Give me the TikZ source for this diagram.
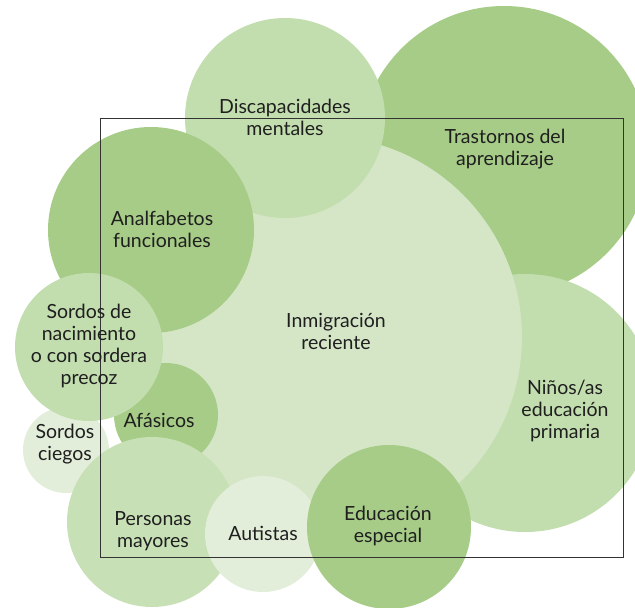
\documentclass[tikz,border=0pt]{standalone}
\usepackage{fontspec}
\setmainfont{Lato}
\definecolor{gdark}{HTML}{A6CC87}
\definecolor{gmed}{HTML}{C2DDAE}
\definecolor{gmedb}{HTML}{C8E0B5}
\definecolor{glight}{HTML}{D5E6C7}
\definecolor{gvlight}{HTML}{E3EEDA}
\definecolor{frame}{HTML}{333333}
\begin{document}
\begin{tikzpicture}[x=1pt,y=-1pt,
  bub/.style={circle,inner sep=0pt,draw=none},
  lbl/.style={align=center,font=\fontsize{19.5}{22}\selectfont,text=black!88,inner sep=0pt}]
\useasboundingbox (0,0) rectangle (635,608);
% circles (back to front)
\node[bub,fill=gdark,minimum size=290pt] (tras) at (504,151) {};
\node[bub,fill=gmed,minimum size=258pt] (ninos) at (525,403) {};
\node[bub,fill=glight,minimum size=402pt] (inmi) at (321,337) {};
\node[bub,fill=gmed,minimum size=200pt] (disc) at (285,118) {};
\node[bub,fill=gdark,minimum size=206pt] (analf) at (151,230) {};
\node[bub,fill=gdark,minimum size=104pt] (afas) at (166,415) {};
\node[bub,fill=gvlight,minimum size=86pt] (sciegos) at (66,450) {};
\node[bub,fill=gmed,minimum size=148pt] (snac) at (89,347) {};
\node[bub,fill=gmedb,minimum size=170pt] (pers) at (152,522) {};
\node[bub,fill=gvlight,minimum size=116pt] (aut) at (263,534) {};
\node[bub,fill=gdark,minimum size=164pt] (educ) at (389,527) {};
% frame
\draw[frame,line width=0.9pt] (100,118) rectangle (623,557);
% labels
\node[lbl] (tdisc) at (285,117) {Discapacidades\\mentales};
\node[lbl] (ttras) at (505,149) {Trastornos del\\aprendizaje};
\node[lbl] (tanalf) at (162,229) {Analfabetos\\funcionales};
\node[lbl] (tinmi) at (336,331) {Inmigración\\reciente};
\node[lbl] (tsnac) at (89,346) {Sordos de\\nacimiento\\o con sordera\\precoz};
\node[lbl] (tafas) at (159,420) {Afásicos};
\node[lbl] (tsciegos) at (65,444) {Sordos\\ciegos};
\node[lbl] (tpers) at (153,531) {Personas\\mayores};
\node[lbl] (taut) at (263,533) {Autistas};
\node[lbl] (teduc) at (388,526) {Educación\\especial};
\node[lbl] (tninos) at (565,411) {Niños/as\\educación\\primaria};
\end{tikzpicture}
\end{document}
